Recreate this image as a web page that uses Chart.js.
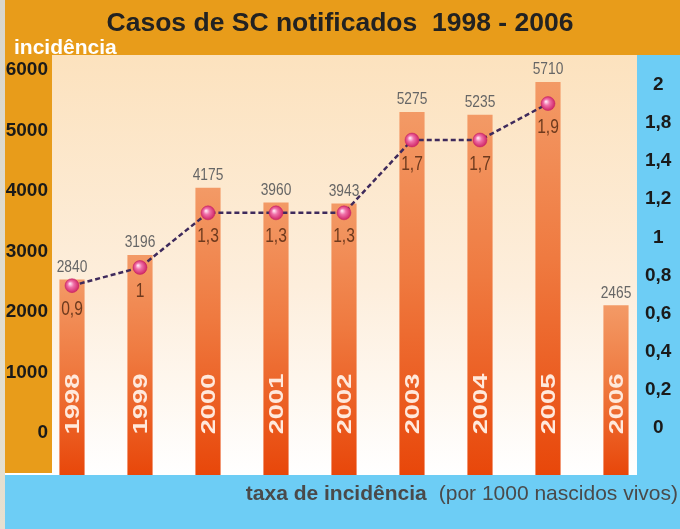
<!DOCTYPE html>
<html><head><meta charset="utf-8">
<script src="https://cdn.jsdelivr.net/npm/chart.js@4.4.1/dist/chart.umd.min.js"></script>
<style>html,body{margin:0;padding:0;background:#fff}#wrap{width:680px;height:529px}</style>
</head><body><div id="wrap"><canvas id="c" width="680" height="529"></canvas></div>
<script>
// ---- data ----
const years = ['1998','1999','2000','2001','2002','2003','2004','2005','2006'];
const cases = [2840, 3196, 4175, 3960, 3943, 5275, 5235, 5710, 2465];
const rate = [0.9, 1, 1.3, 1.3, 1.3, 1.7, 1.7, 1.9, null];
const leftTicks = [0, 1000, 2000, 3000, 4000, 5000, 6000];
const rightTickLabels = ['0','0,2','0,4','0,6','0,8','1','1,2','1,4','1,8','2'];
const titleText = 'Casos de SC notificados  1998 - 2006';
const leftAxisTitle = 'incidência';
const captionBold = 'taxa de incidência';
const captionRest = '(por 1000 nascidos vivos)';

const SANS = "'Liberation Sans',Arial,sans-serif";
const fmt = v => String(v).replace('.', ',');

const barPoints = cases.map((v, i) => ({ x: i, y: v }));
const ratePoints = rate.map((v, i) => ({ x: i, y: v }));

function squeezedText(c, txt, x, y, sx) {
  c.save();
  c.translate(x, y);
  c.scale(sx, 1);
  c.fillText(txt, 0, 0);
  c.restore();
}

const bgPlugin = {
  id: 'bg',
  beforeDraw(chart) {
    const c = chart.ctx;
    c.save();
    const g0 = c.createLinearGradient(0,0,0,529);
    g0.addColorStop(0,'#d9d6cc'); g0.addColorStop(1,'#e6e0d0');
    c.fillStyle = g0; c.fillRect(0,0,5,529);
    c.fillStyle = '#E89C1A';
    c.fillRect(5,0,675,55);
    c.fillRect(5,55,47,418);
    const g = c.createLinearGradient(0,55,0,475);
    g.addColorStop(0,'#FCE2BE'); g.addColorStop(0.55,'#FDEEDC'); g.addColorStop(1,'#FFFFFF');
    c.fillStyle = g; c.fillRect(52,55,585,420);
    c.fillStyle = '#6DCDF5';
    c.fillRect(637,55,43,420);
    c.fillRect(5,475,675,54);
    c.fillStyle = '#ffffff';
    c.font = 'bold 21px ' + SANS;
    c.textAlign = 'left'; c.textBaseline = 'alphabetic';
    c.fillText(leftAxisTitle, 14, 54);
    c.fillStyle = '#4a4a4a';
    c.font = '21px ' + SANS;
    c.textAlign = 'right';
    c.fillText(captionRest, 678, 500);
    const wRest = c.measureText(captionRest).width;
    c.font = 'bold 21px ' + SANS;
    c.fillText(captionBold, 678 - wRest - 12, 500);
    c.restore();
  },
  afterDatasetsDraw(chart) {
    const c = chart.ctx;
    const barMeta = chart.getDatasetMeta(0);
    const lineMeta = chart.getDatasetMeta(1);
    c.save();
    c.textAlign = 'center'; c.textBaseline = 'middle';
    barMeta.data.forEach((el, i) => {
      c.fillStyle = '#666';
      c.font = '16px ' + SANS;
      squeezedText(c, String(cases[i]), el.x, el.y - 12, 0.86);
      c.save();
      c.translate(el.x, 404);
      c.rotate(-Math.PI/2);
      c.scale(1.3, 1);
      c.fillStyle = '#FFE9DC';
      c.font = 'bold 21px ' + SANS;
      c.fillText(years[i], 0, 1);
      c.restore();
    });
    lineMeta.data.forEach((el, i) => {
      if (rate[i] == null) return;
      c.fillStyle = '#6E3A1E';
      c.font = '20px ' + SANS;
      squeezedText(c, fmt(rate[i]), el.x, el.y + 24, 0.78);
    });
    c.restore();
  }
};

const barColor = ctx => {
  const chart = ctx.chart;
  const s = chart.scales && chart.scales.yBar;
  if (!s || ctx.parsed == null) return '#EE6A30';
  const top = s.getPixelForValue(ctx.parsed.y);
  const bot = s.getPixelForValue(0);
  if (!isFinite(top) || !isFinite(bot)) return '#EE6A30';
  const g = chart.ctx.createLinearGradient(0, top, 0, bot);
  g.addColorStop(0, '#F39A66');
  g.addColorStop(0.45, '#EF7A40');
  g.addColorStop(1, '#E8470A');
  return g;
};

const pointColor = ctx => {
  const chart = ctx.chart;
  const sx = chart.scales && chart.scales.x, sy = chart.scales && chart.scales.yRate;
  if (!sx || !sy || ctx.parsed == null || ctx.parsed.y == null) return '#E0407A';
  const x = sx.getPixelForValue(ctx.parsed.x), y = sy.getPixelForValue(ctx.parsed.y);
  if (!isFinite(x) || !isFinite(y)) return '#E0407A';
  const g = chart.ctx.createRadialGradient(x - 2, y - 2, 0.5, x, y, 8);
  g.addColorStop(0, '#FFE0F0');
  g.addColorStop(0.35, '#F070A8');
  g.addColorStop(1, '#C8185A');
  return g;
};

new Chart(document.getElementById('c'), {
  data: {
    datasets: [
      { type: 'bar', data: barPoints, yAxisID: 'yBar', xAxisID: 'x', order: 2,
        backgroundColor: barColor, borderWidth: 0,
        barPercentage: 0.37, categoryPercentage: 1 },
      { type: 'line', data: ratePoints, yAxisID: 'yRate', xAxisID: 'x', order: 1,
        borderColor: '#3E2A5C', borderWidth: 2.5, borderDash: [5, 3],
        pointRadius: 7, pointBackgroundColor: pointColor,
        pointBorderColor: 'rgba(200,30,100,0.5)', pointBorderWidth: 1,
        fill: false, tension: 0, spanGaps: false }
    ]
  },
  options: {
    responsive: false, animation: false, devicePixelRatio: 1,
    layout: { padding: { left: 0, right: 0, top: 0, bottom: 54 } },
    plugins: {
      legend: { display: false },
      tooltip: { enabled: false },
      title: { display: true, text: titleText, color: '#222',
        font: { size: 26.5, weight: 'bold', family: SANS, lineHeight: 1.2 },
        padding: { top: 8, bottom: 15 } }
    },
    scales: {
      x: { type: 'linear', display: false, offset: false, min: -0.3235, max: 8.309,
        grid: { display: false } },
      yBar: { type: 'linear', display: false, position: 'left', min: 0, max: 6105 },
      yRate: { type: 'linear', display: false, position: 'right', min: -0.14, max: 2.168 },
      yLeft: { type: 'linear', position: 'left', min: -694, max: 6248,
        grid: { display: false, drawTicks: false }, border: { display: false },
        afterBuildTicks: s => { s.ticks = leftTicks.map(v => ({ value: v })); },
        afterFit: s => { s.width = 50; },
        ticks: { color: '#1a1a1a', padding: 2, crossAlign: 'near',
          font: { size: 19, weight: 'bold', family: SANS },
          callback: v => String(v) } },
      yRight: { type: 'linear', position: 'right', min: -1.233, max: 9.787,
        grid: { display: false, drawTicks: false }, border: { display: false },
        afterBuildTicks: s => { s.ticks = rightTickLabels.map((t, i) => ({ value: i })); },
        afterFit: s => { s.width = 43; },
        ticks: { color: '#1a1a1a', padding: 8, crossAlign: 'center',
          font: { size: 19, weight: 'bold', family: SANS },
          callback: v => rightTickLabels[v] } }
    }
  },
  plugins: [bgPlugin]
});
</script></body></html>
